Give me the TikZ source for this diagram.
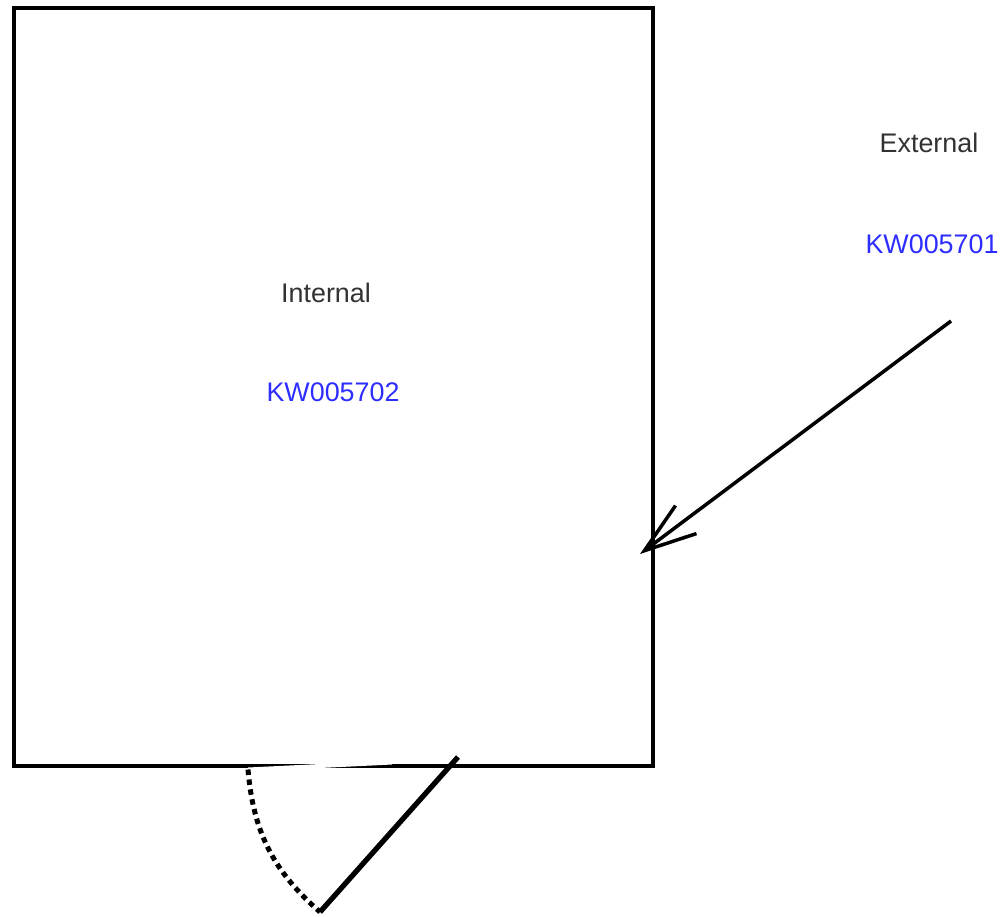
\documentclass[tikz,border=0pt]{standalone}
\usepackage{fontspec}
\setmainfont{Liberation Sans}
\usepackage{xcolor}
\usetikzlibrary{arrows.meta}
\definecolor{kwblue}{RGB}{45,45,255}
\definecolor{labelgrey}{RGB}{50,50,50}
\tikzset{
  wall/.style={line width=0.062cm,line join=miter},
  areaname/.style={font=\fontsize{15.3pt}{18pt}\selectfont,text=labelgrey},
  kwcode/.style={font=\fontsize{15.3pt}{18pt}\selectfont,text=kwblue},
  doorleaf/.style={line width=0.105cm},
  doorswing/.style={line width=0.1cm,dash pattern=on 0.11cm off 0.09cm}
}

\begin{document}
\begin{tikzpicture}[x=0.02cm,y=-0.02cm,>={Straight Barb[length=1.04cm,width=0.7cm]}]

\useasboundingbox (0,0) rectangle (1007,916);

\coordinate (roomtl) at (14,8);
\coordinate (roombr) at (653,766);
\coordinate (arrowstart) at (951,321);
\coordinate (arrowend) at (640,554);
\coordinate (gapleft) at (248,769.5);
\coordinate (gapright) at (392,762.5);
\coordinate (hinge) at (458,757);
\coordinate (doorend) at (320,912);

\node[areaname] (internal) at (326,293) {Internal};
\node[kwcode] (internalkw) at (333,392) {KW005702};
\node[areaname] (external) at (929,143) {External};
\node[kwcode] (externalkw) at (932,244) {KW005701};

\draw[wall] (roomtl) rectangle (roombr);
\draw[white,line width=0.08cm] (gapleft) -- (gapright);

\draw[wall,line width=0.07cm,->] (arrowstart) -- (arrowend);

\draw[doorleaf] (hinge) -- (doorend);
\draw[doorswing] (gapleft) to[bend right=22] (doorend);

\end{tikzpicture}
\end{document}
